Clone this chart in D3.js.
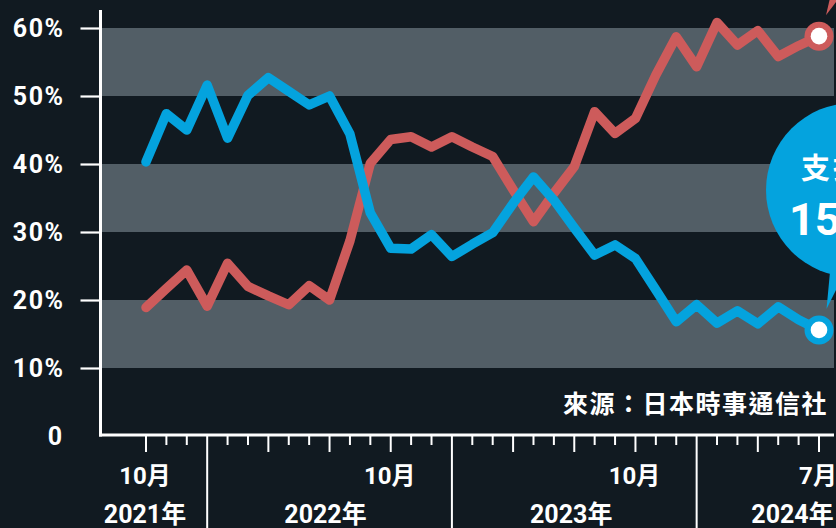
<!DOCTYPE html>
<html><head><meta charset="utf-8">
<script src="https://cdn.jsdelivr.net/npm/d3@7"></script>
<style>
html,body{margin:0;padding:0;background:#111a21;overflow:hidden;}
svg{display:block;}
text{font-family:Roboto,"Noto Sans CJK TC",sans-serif;font-weight:700;fill:#fff;}
</style></head><body>
<svg id="c" width="836" height="528"></svg>
<script>
// ---- data ----
const months = ["2021-10","2021-11","2021-12",
  "2022-01","2022-02","2022-03","2022-04","2022-05","2022-06","2022-07","2022-08","2022-09","2022-10","2022-11","2022-12",
  "2023-01","2023-02","2023-03","2023-04","2023-05","2023-06","2023-07","2023-08","2023-09","2023-10","2023-11","2023-12",
  "2024-01","2024-02","2024-03","2024-04","2024-05","2024-06","2024-07"];
const support = [40.3,47.4,45.0,51.6,43.8,50.1,52.7,50.7,48.7,50.0,44.4,32.8,27.6,27.5,29.6,26.4,28.2,29.9,34.2,38.1,34.7,30.6,26.6,28.1,26.1,21.5,16.8,19.3,16.6,18.4,16.5,19.0,17.1,15.6];
const oppose  = [18.9,21.7,24.4,19.1,25.4,22.0,20.6,19.3,22.1,20.0,28.7,40.1,43.6,44.0,42.5,44.0,42.5,41.1,36.2,31.5,35.7,39.6,47.7,44.5,46.7,53.1,58.7,54.3,60.8,57.5,59.6,55.8,57.4,58.8];
const yTicks = [10,20,30,40,50,60];
const bands = [[10,20],[30,40],[50,60]];
const monthLabels = [["2021-10","10月"],["2022-10","10月"],["2023-10","10月"],["2024-07","7月"]];
const yearLabels = [["2021年",0],["2022年",8.85],["2023年",20.9],["2024年",31.75]];
const sourceText = "來源：日本時事通信社";
const bubbleTitle = "支持率";
const bubbleValue = "15.6%";

// ---- chart ----
const svg = d3.select("#c");
const C = {bg:"#111a21", band:"#525e66", blue:"#04a3de", red:"#cd5b5b", white:"#ffffff"};
svg.append("rect").attr("width",836).attr("height",528).attr("fill",C.bg);

const x = d3.scalePoint().domain(months).range([146, 819]);
const step = x.step();
const xi = i => x(months[0]) + i*step;
const y = d3.scaleLinear().domain([0,60]).range([436,28]);

// bands
svg.selectAll("rect.band").data(bands).join("rect").attr("class","band")
  .attr("x",102).attr("width",834-102)
  .attr("y",d=>y(d[1])).attr("height",d=>y(d[0])-y(d[1]))
  .attr("fill",C.band);

// y axis
const yAxis = d3.axisLeft(y).tickValues(yTicks).tickFormat(d=>d+"%").tickSize(20).tickPadding(16);
const gy = svg.append("g").attr("transform","translate(100.5,0)").call(yAxis);
gy.select(".domain").remove();
gy.selectAll(".tick line").attr("stroke",C.white).attr("stroke-width",2.2);
gy.selectAll(".tick text").attr("fill",C.white).style("font-size","25px").attr("letter-spacing","1.5px").attr("dy","0.34em");
svg.append("text").attr("x",62).attr("y",y(0)).attr("dy","0.34em").attr("text-anchor","end").style("font-size","25px").text("0");
svg.append("line").attr("x1",100.5).attr("x2",100.5).attr("y1",10).attr("y2",436.5).attr("stroke",C.white).attr("stroke-width",3);

// x axis
svg.append("line").attr("x1",99).attr("x2",834).attr("y1",435).attr("y2",435).attr("stroke",C.white).attr("stroke-width",3);
svg.selectAll("line.xt").data(months).join("line").attr("class","xt")
  .attr("x1",d=>x(d)).attr("x2",d=>x(d))
  .attr("y1",436)
  .attr("y2",d=>{const m=+d.slice(5); return m===1?528:(m%3===1?452:445);})
  .attr("stroke",C.white).attr("stroke-width",2);
svg.selectAll("text.ml").data(monthLabels).join("text").attr("class","ml")
  .attr("x",d=>x(d[0])-1).attr("y",484).attr("text-anchor","middle").style("font-size","24px").text(d=>d[1]);
svg.selectAll("text.yl").data(yearLabels).join("text").attr("class","yl")
  .attr("x",d=>xi(d[1])-1).attr("y",523).attr("text-anchor","middle").style("font-size","25px").text(d=>d[0]);

// source
svg.append("text").attr("x",828).attr("y",413).attr("text-anchor","end").style("font-size","25px").attr("letter-spacing","1.5px").text(sourceText);

// lines
const line = d3.line().x((d,i)=>x(months[i])).y(d=>y(d));
[[oppose,C.red],[support,C.blue]].forEach(([s,c])=>{
  svg.append("path").datum(s).attr("d",line).attr("fill","none").attr("stroke",c)
    .attr("stroke-width",9.5).attr("stroke-linejoin","round").attr("stroke-linecap","round");
});

// end markers
const last = months.length-1;
[[oppose,C.red],[support,C.blue]].forEach(([s,c])=>{
  svg.append("circle").attr("cx",x(months[last])).attr("cy",y(s[last])).attr("r",14.5).attr("fill",c);
  svg.append("circle").attr("cx",x(months[last])).attr("cy",y(s[last])).attr("r",8.3).attr("fill",C.white);
});

// callouts
const ex = x(months[last]);
svg.append("path").attr("d",`M${ex+7},${y(oppose[last])-21} L${ex+11},-2 L${ex+20},-2 Z`).attr("fill",C.red);
svg.append("circle").attr("cx",853).attr("cy",190).attr("r",87).attr("fill",C.blue);
svg.append("path").attr("d",`M${ex+7.5},${y(support[last])-21} L${ex+11},272 L${ex+26},272 Z`).attr("fill",C.blue);
svg.append("text").attr("x",801).attr("y",179).style("font-size","29px").attr("letter-spacing","3px").text(bubbleTitle);
svg.append("text").attr("x",789).attr("y",235).style("font-size","45px").text(bubbleValue);
</script>
</body></html>
